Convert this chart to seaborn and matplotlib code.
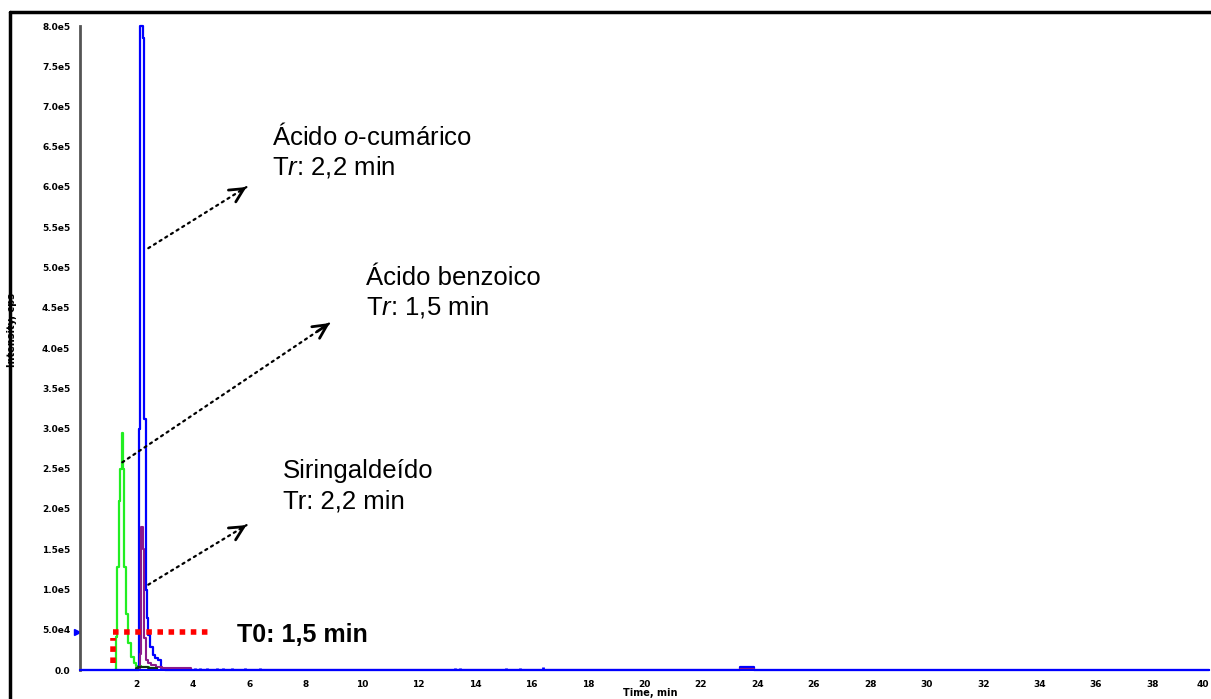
import numpy as np
import pandas as pd
import matplotlib
matplotlib.use("Agg")
import matplotlib.pyplot as plt
from matplotlib.lines import Line2D
import seaborn as sns

# ---------------- data ----------------
# Ácido o-cumárico (blue trace)
blue_t = [0.00, 2.00, 2.05, 2.10, 2.15, 2.20, 2.25, 2.30, 2.35, 2.40, 2.45, 2.50,
          2.55, 2.60, 2.70, 2.80, 2.85, 2.90, 3.00, 3.05, 23.35, 23.40, 23.85, 23.90, 40.00]
blue_v = [0, 0, 0, 3.0e5, 8.0e5, 8.0e5, 7.85e5, 3.12e5, 1.0e5, 6.5e4, 4.4e4, 2.9e4,
          2.9e4, 1.9e4, 1.5e4, 1.2e4, 1.2e4, 3e3, 1.5e3, 0, 0, 4e3, 4e3, 0, 0]

# Ácido benzoico (green trace)
green_t = [1.20, 1.25, 1.30, 1.35, 1.40, 1.45, 1.50, 1.55, 1.60, 1.65, 1.75, 1.85,
           1.95, 2.05, 2.30, 2.60, 2.65]
green_v = [0, 0, 4.1e4, 1.28e5, 2.1e5, 2.5e5, 2.95e5, 2.5e5, 1.28e5, 7.0e4, 3.3e4,
           1.6e4, 9e3, 5e3, 4e3, 3e3, 0]

# Siringaldeído (purple trace)
purple_t = [2.05, 2.10, 2.15, 2.20, 2.25, 2.30, 2.35, 2.45, 2.60, 2.80, 3.00, 3.90,
            3.95, 23.35, 23.40, 23.85, 23.90]
purple_v = [0, 0, 2.0e4, 1.78e5, 1.5e5, 4.0e4, 1.2e4, 9e3, 6e3, 4e3, 2e3, 2e3,
            0, 0, 1.5e3, 1.5e3, 0]

# small dark trace near baseline
black_t = [1.95, 2.00, 2.10, 2.30, 2.50, 2.70, 2.75]
black_v = [0, 3e3, 4e3, 4e3, 3e3, 2e3, 0]

# small baseline blips of the blue trace
blip_t = [4.07, 4.25, 4.50, 4.85, 5.07, 5.38, 5.84, 6.37, 13.30, 13.45, 15.08, 15.58, 16.40]
blip_v = [3e3, 2.5e3, 3e3, 2.5e3, 3e3, 2.5e3, 3e3, 2.5e3, 3e3, 3e3, 3e3, 3e3, 4e3]

x_ticks = list(range(2, 41, 2))
x_labels = [str(v) for v in x_ticks]
y_ticks = [i * 5e4 for i in range(17)]
y_labels = ["0.0", "5.0e4", "1.0e5", "1.5e5", "2.0e5", "2.5e5", "3.0e5", "3.5e5",
            "4.0e5", "4.5e5", "5.0e5", "5.5e5", "6.0e5", "6.5e5", "7.0e5", "7.5e5", "8.0e5"]

# T0 marker (red dotted)
t0_x = [1.17, 4.71]
t0_y = 4.7e4

# ---------------- figure ----------------
sns.set_style("white")
plt.rcParams["font.family"] = ["Liberation Sans", "DejaVu Sans"]
plt.rcParams["mathtext.fontset"] = "custom"
plt.rcParams["mathtext.rm"] = "Liberation Sans"
plt.rcParams["mathtext.it"] = "Liberation Sans:italic"
plt.rcParams["text.color"] = "black"

W, H = 1211, 699
fig = plt.figure(figsize=(W / 100, H / 100), dpi=100)
fig.patch.set_facecolor("white")
ax = fig.add_axes([80 / W, 1 - 670 / H, (1209 - 80) / W, (670 - 26) / H])
ax.set_facecolor("white")

df_g = pd.DataFrame({"t": green_t, "v": green_v})
df_p = pd.DataFrame({"t": purple_t, "v": purple_v})
df_k = pd.DataFrame({"t": black_t, "v": black_v})
df_b = pd.DataFrame({"t": blue_t, "v": blue_v})

sns.lineplot(data=df_g, x="t", y="v", ax=ax, color="#22EE22", lw=1.6,
             drawstyle="steps-mid", estimator=None, sort=False)
sns.lineplot(data=df_b, x="t", y="v", ax=ax, color="#0000FF", lw=1.6,
             drawstyle="steps-mid", estimator=None, sort=False, clip_on=False)
sns.lineplot(data=df_p, x="t", y="v", ax=ax, color="#8B1A8B", lw=1.5,
             drawstyle="steps-mid", estimator=None, sort=False)
sns.lineplot(data=df_k, x="t", y="v", ax=ax, color="#113311", lw=1.5,
             drawstyle="steps-mid", estimator=None, sort=False)
ax.vlines(blip_t, 0, blip_v, color="#0000FF", lw=2)

# red dotted T0 marker
ax.plot(t0_x, [t0_y, t0_y], color="#FF0000", lw=4, ls=(0, (1, 1)), clip_on=False)
ax.plot([t0_x[0], t0_x[0]], [0.9e4, 4.0e4], color="#FF0000", lw=4, ls=(0, (1, 1)), clip_on=False)

# small blue threshold marker on the y axis
ax.plot([-0.12], [t0_y], marker=">", color="#0000FF", ms=5, clip_on=False)

ax.set_xlim(0, 40)
ax.set_ylim(0, 8e5)
ax.set_xticks(x_ticks)
ax.set_xticklabels(x_labels)
ax.set_xticks(list(range(1, 40, 2)), minor=True)
ax.set_yticks(y_ticks)
ax.set_yticklabels(y_labels)
ax.tick_params(axis="x", which="major", direction="out", length=4, width=1.5,
               labelsize=6.5, pad=3, colors="black")
ax.tick_params(axis="x", which="minor", direction="out", length=2, width=1.5, colors="black")
ax.tick_params(axis="y", which="major", direction="out", length=3, width=1.5,
               labelsize=6.5, pad=4, colors="black")
for lab in ax.get_xticklabels() + ax.get_yticklabels():
    lab.set_fontweight("bold")
    lab.set_family("DejaVu Sans")
# keep the last x label inside the picture
ax.get_xticklabels()[-1].set_horizontalalignment("right")

for s in ["top", "right"]:
    ax.spines[s].set_visible(False)
ax.spines["left"].set_color("#555555")
ax.spines["left"].set_linewidth(2)
ax.spines["bottom"].set_color("#0000FF")
ax.spines["bottom"].set_linewidth(1.5)
ax.set_xlabel("")
ax.set_ylabel("")

# axis titles
fig.text(12 / W, 1 - 330 / H, "Intensity, cps", rotation=90, ha="center", va="center",
         fontsize=7, fontweight="bold", family="DejaVu Sans", color="black")
fig.text(623 / W, 1 - 688 / H, "Time, min", ha="left", va="top",
         fontsize=7, fontweight="bold", family="DejaVu Sans", color="black")

# annotations
fs = 18.5
ax.text(6.79, 6.52e5, "Ácido $\\mathit{o}$-cumárico", fontsize=fs, va="baseline", ha="left", color="black")
ax.text(6.79, 6.15e5, "T$\\mathit{r}$: 2,2 min", fontsize=fs, va="baseline", ha="left", color="black")
ax.text(10.13, 4.78e5, "Ácido benzoico", fontsize=fs, va="baseline", ha="left", color="black")
ax.text(10.13, 4.41e5, "T$\\mathit{r}$: 1,5 min", fontsize=fs, va="baseline", ha="left", color="black")
ax.text(7.18, 2.385e5, "Siringaldeído", fontsize=fs, va="baseline", ha="left", color="black")
ax.text(7.18, 2.01e5, "Tr: 2,2 min", fontsize=fs, va="baseline", ha="left", color="black")
ax.text(5.55, 3.5e4, "T0: 1,5 min", fontsize=18, fontweight="bold", va="baseline", ha="left", color="black")

arrows = [((2.42, 5.24e5), (5.90, 6.00e5)),
          ((1.50, 2.58e5), (8.85, 4.31e5)),
          ((2.42, 1.06e5), (5.90, 1.80e5))]
for start, tip in arrows:
    ax.annotate("", xy=tip, xytext=start,
                arrowprops=dict(arrowstyle="-", ls=(0, (1, 2)), lw=1.6, color="black",
                                shrinkA=0, shrinkB=0))
    # solid open arrow head
    dx, dy = tip[0] - start[0], tip[1] - start[1]
    ax.annotate("", xy=tip, xytext=(tip[0] - dx * 0.06, tip[1] - dy * 0.06),
                arrowprops=dict(arrowstyle="->,head_length=1.0,head_width=0.5", lw=2,
                                color="black", shrinkA=0, shrinkB=0))

# outer black frame (top and left)
fig.add_artist(Line2D([9.5 / W, 9.5 / W], [0, 1 - 11.5 / H], transform=fig.transFigure,
                      color="black", lw=2.5))
fig.add_artist(Line2D([9.5 / W, 1], [1 - 11.5 / H, 1 - 11.5 / H], transform=fig.transFigure,
                      color="black", lw=2.5))

fig.savefig("out.png", dpi=100)
